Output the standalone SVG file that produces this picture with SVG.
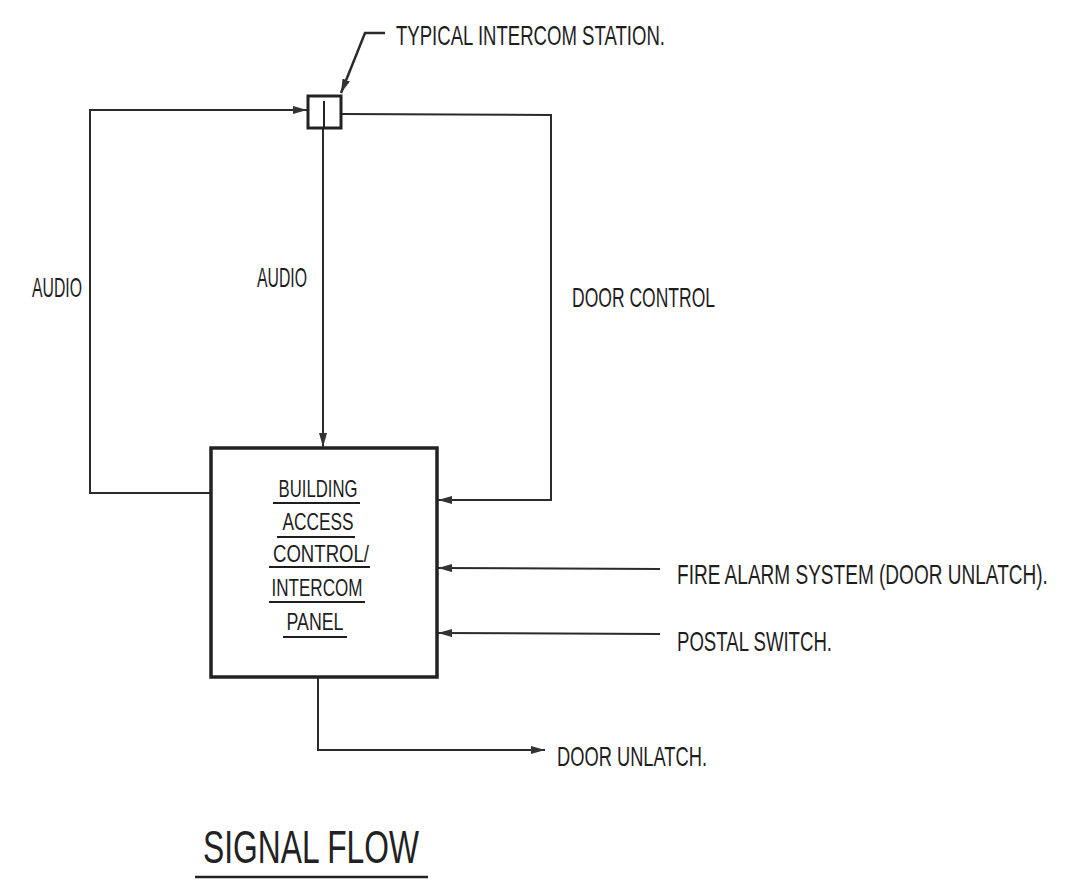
<svg xmlns="http://www.w3.org/2000/svg" width="1081" height="895" viewBox="0 0 1081 895">
<defs>
<marker id="arr" viewBox="0 0 14 8" refX="14" refY="4" markerWidth="14" markerHeight="8" markerUnits="userSpaceOnUse" orient="auto">
<path d="M0,0 L14,4 L0,8 Z" fill="#333"/>
</marker>
</defs>
<style>
.ln{fill:none;stroke:#2b2b2b;stroke-width:2}
.t{font-family:"Liberation Sans",Arial,sans-serif;font-size:28px;fill:#1e1e1e}
.p{font-family:"Liberation Sans",Arial,sans-serif;font-size:24px;fill:#1e1e1e;text-anchor:middle}
.u{stroke:#1e1e1e;stroke-width:2}
</style>
<rect width="1081" height="895" fill="#fff"/>
<g id="connectors">
<polyline class="ln" points="210,493 90,493 90,110 307,110" marker-end="url(#arr)"/>
<line class="ln" x1="323" y1="128" x2="323" y2="447" marker-end="url(#arr)"/>
<polyline class="ln" points="342,114 551,115 551,500 438,500" marker-end="url(#arr)"/>
<line class="ln" x1="660" y1="569" x2="438" y2="568" marker-end="url(#arr)"/>
<line class="ln" x1="660" y1="634" x2="438" y2="633" marker-end="url(#arr)"/>
<polyline class="ln" points="318,677 318,750 545,750" marker-end="url(#arr)"/>
<polyline class="ln" style="stroke-width:2.5" points="385,33 365,33 341,93" marker-end="url(#arr)"/>
</g>
<g id="station">
<rect x="308" y="96" width="33" height="32" fill="#fff" stroke="#222" stroke-width="3"/>
<line x1="324" y1="101" x2="324" y2="128" stroke="#222" stroke-width="2"/>
<text class="t" x="396" y="45" textLength="269" lengthAdjust="spacingAndGlyphs">TYPICAL INTERCOM STATION.</text>
</g>
<g id="panel">
<rect x="211" y="448" width="226" height="229" fill="none" stroke="#222" stroke-width="3.5"/>
<text class="p" x="318" y="497" textLength="79" lengthAdjust="spacingAndGlyphs">BUILDING</text>
<line class="u" x1="273" y1="503" x2="360" y2="503"/>
<text class="p" x="318" y="530" textLength="71" lengthAdjust="spacingAndGlyphs">ACCESS</text>
<line class="u" x1="277" y1="537" x2="355" y2="537"/>
<text class="p" x="321" y="562" textLength="96" lengthAdjust="spacingAndGlyphs">CONTROL/</text>
<line class="u" x1="269" y1="567" x2="370" y2="567"/>
<text class="p" x="317" y="596" textLength="91" lengthAdjust="spacingAndGlyphs">INTERCOM</text>
<line class="u" x1="269" y1="602" x2="365" y2="602"/>
<text class="p" x="315" y="630" textLength="57" lengthAdjust="spacingAndGlyphs">PANEL</text>
<line class="u" x1="283" y1="637" x2="347" y2="637"/>
</g>
<g id="labels">
<text class="t" x="32" y="297" textLength="50" lengthAdjust="spacingAndGlyphs">AUDIO</text>
<text class="t" x="257" y="287" textLength="50" lengthAdjust="spacingAndGlyphs">AUDIO</text>
<text class="t" x="572" y="307" textLength="143" lengthAdjust="spacingAndGlyphs">DOOR CONTROL</text>
</g>
<g id="fire-alarm">
<text class="t" transform="translate(677,584) scale(0.68,1)" x="0" y="0">FIRE ALARM SYSTEM (DOOR UNLATCH).</text>
</g>
<g id="postal-switch">
<text class="t" x="677" y="651" textLength="155" lengthAdjust="spacingAndGlyphs">POSTAL SWITCH.</text>
</g>
<g id="door-unlatch">
<text class="t" x="557" y="766" textLength="150" lengthAdjust="spacingAndGlyphs">DOOR UNLATCH.</text>
</g>
<g id="title">
<text x="203" y="863" font-family="Liberation Sans, Arial, sans-serif" font-size="46" fill="#222" textLength="216" lengthAdjust="spacingAndGlyphs">SIGNAL FLOW</text>
<line x1="195" y1="877" x2="428" y2="877" stroke="#222" stroke-width="2.5"/>
</g>
</svg>
